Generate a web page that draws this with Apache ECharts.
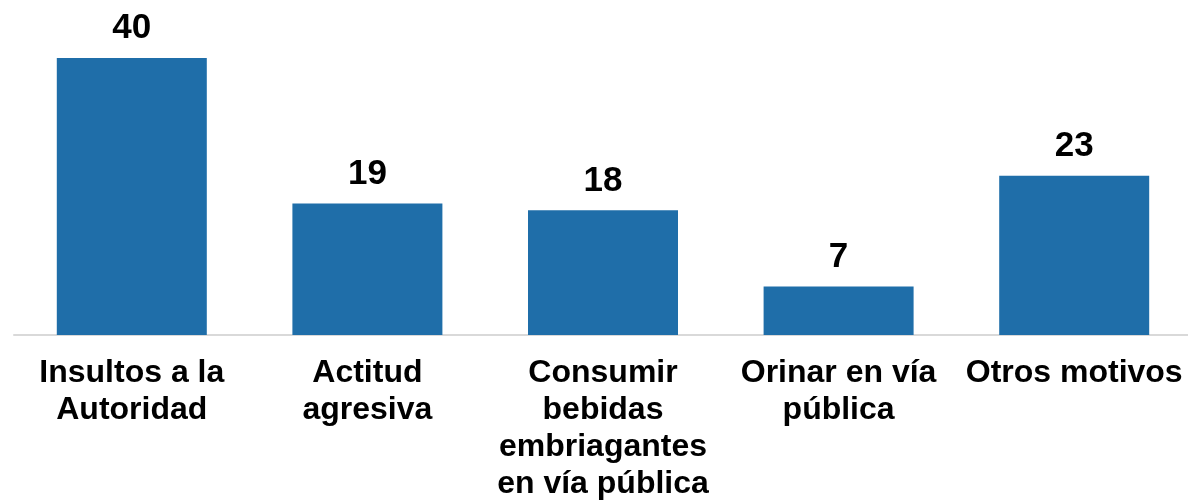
<!DOCTYPE html>
<html>
<head>
<meta charset="utf-8">
<script src="https://cdn.jsdelivr.net/npm/echarts@6/dist/echarts.min.js"></script>
<style>
  html, body { margin: 0; padding: 0; background: #fff; }
  #chart { width: 1188px; height: 501px; }
</style>
</head>
<body>
<div id="chart"></div>
<script>
// categorías y valores
const categories = [
  "Insultos a la\nAutoridad",
  "Actitud\nagresiva",
  "Consumir\nbebidas\nembriagantes\nen vía pública",
  "Orinar en vía\npública",
  "Otros motivos",
];
const values = [40, 19, 18, 7, 23];

const chart = echarts.init(document.getElementById("chart"));
const font = "'Liberation Sans', Arial, sans-serif";

const option = {
  animation: false,
  grid: {
    left: 14,
    width: 1178,
    top: 58,
    bottom: 166,
    containLabel: false,
    outerBoundsMode: "none",
  },
  xAxis: {
    type: "category",
    data: categories,
    axisTick: { show: false },
    axisLine: { show: true, lineStyle: { color: "#d9d9d9", width: 2 } },
    axisLabel: {
      interval: 0,
      margin: 20,
      color: "#000",
      fontFamily: font,
      fontWeight: "bold",
      fontSize: 32,
      lineHeight: 37,
    },
  },
  yAxis: {
    type: "value",
    min: 0,
    max: 40,
    show: false,
    splitLine: { show: false },
  },
  series: [
    {
      type: "bar",
      data: values,
      barWidth: 150,
      itemStyle: { color: "#1f6ea9" },
      label: {
        show: true,
        position: "top",
        distance: 12,
        color: "#000",
        fontFamily: font,
        fontWeight: "bold",
        fontSize: 35,
      },
    },
  ],
};

option && chart.setOption(option);
</script>
</body>
</html>
